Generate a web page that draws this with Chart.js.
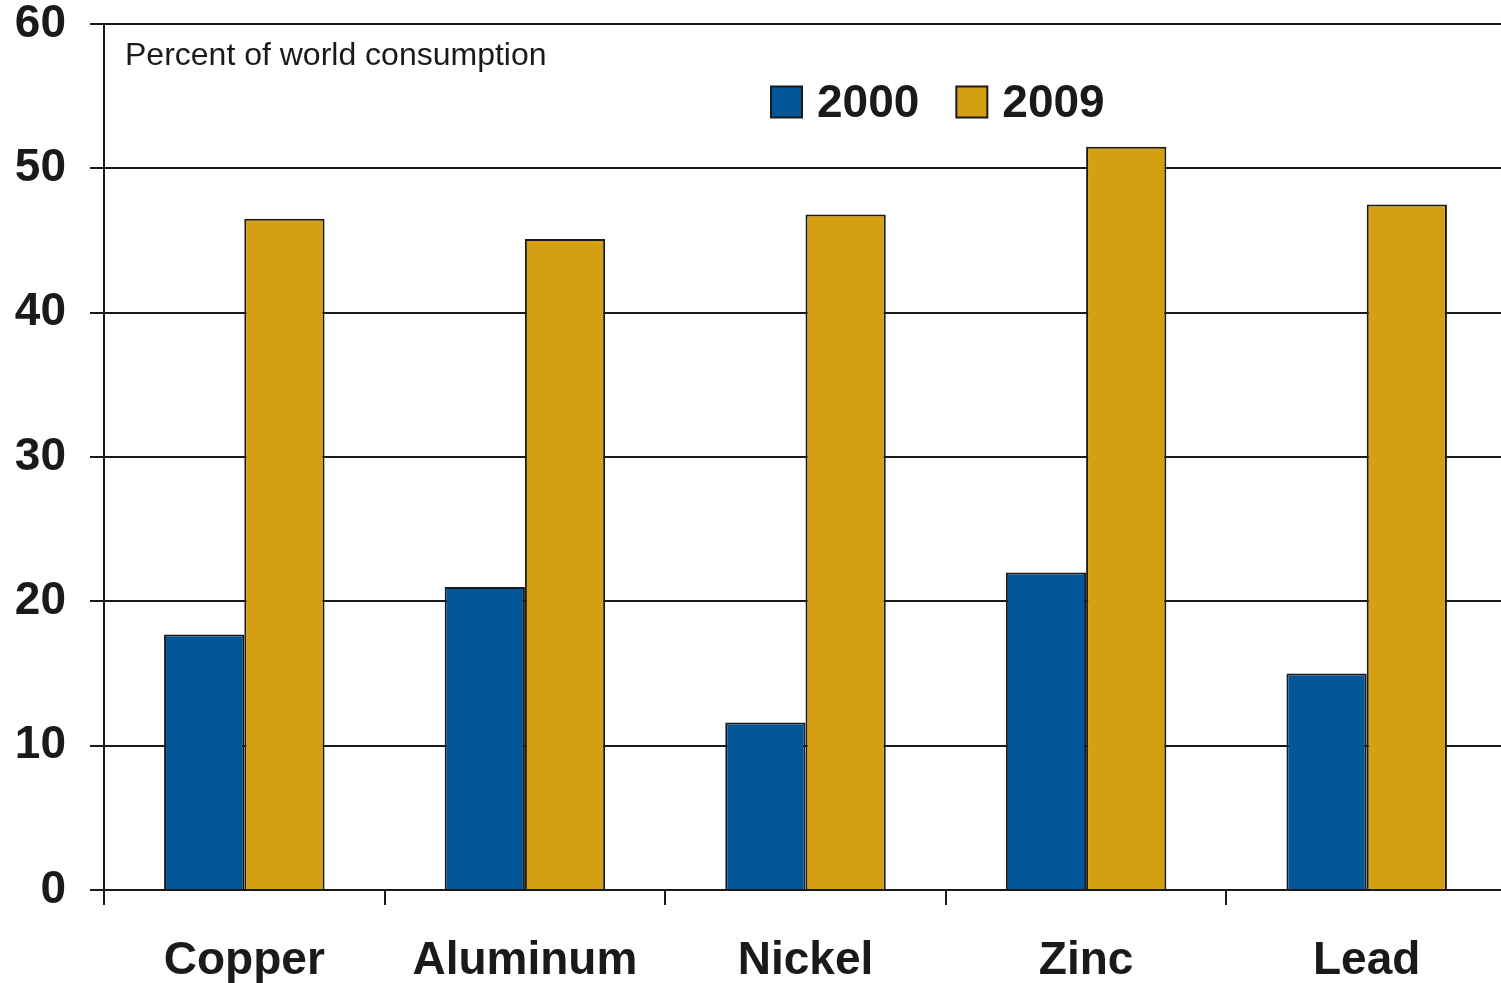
<!DOCTYPE html>
<html>
<head>
<meta charset="utf-8">
<title>Share of world metal consumption, 2000 and 2009</title>
<script src="https://cdn.jsdelivr.net/npm/chart.js@4/dist/chart.umd.min.js"></script>
<style>
  html, body { margin: 0; padding: 0; background: #ffffff; overflow: hidden; }
  #wrap { width: 1507px; height: 983px; position: relative; }
</style>
</head>
<body>
<div id="wrap"><canvas id="chart" width="1507" height="983"></canvas></div>
<script>
// Categories and series
const metals = ['Copper', 'Aluminum', 'Nickel', 'Zinc', 'Lead'];
const seriesNames = ['2000', '2009'];
const share2000 = [17.7, 21.0, 11.6, 22.0, 15.0];
const share2009 = [46.5, 45.1, 46.8, 51.5, 47.5];
const yTicks = [0, 10, 20, 30, 40, 50, 60];
const unitNote = 'Percent of world consumption';

const INK = '#1a1a1a';
const BLUE = '#02569a';
const GOLD = '#d4a012';
const FONT = '"Liberation Sans", Arial, Helvetica, sans-serif';

// Unit note in the top-left corner of the plot
const unitNotePlugin = {
  id: 'unitNote',
  afterDraw(chart) {
    const { ctx, chartArea } = chart;
    ctx.save();
    ctx.font = '32px ' + FONT;
    ctx.fillStyle = INK;
    ctx.textAlign = 'left';
    ctx.textBaseline = 'alphabetic';
    ctx.fillText(unitNote, chartArea.left + 21, 65);
    ctx.restore();
  }
};

// Legend drawn inside the plot area from the datasets
const insideLegend = {
  id: 'insideLegend',
  afterDraw(chart) {
    const { ctx, chartArea } = chart;
    const box = 31, gapText = 15, gapItem = 37, cy = 102;
    let x = chartArea.left + 667;
    ctx.save();
    ctx.font = 'bold 46px ' + FONT;
    ctx.textBaseline = 'middle';
    ctx.textAlign = 'left';
    chart.data.datasets.forEach(ds => {
      ctx.fillStyle = ds.backgroundColor;
      ctx.fillRect(x, cy - box / 2, box, box);
      ctx.lineWidth = 2;
      ctx.strokeStyle = INK;
      ctx.strokeRect(x, cy - box / 2, box, box);
      x += box + gapText;
      ctx.fillStyle = INK;
      ctx.fillText(ds.label, x, cy + 2);
      x += ctx.measureText(ds.label).width + gapItem;
    });
    ctx.restore();
  }
};

new Chart(document.getElementById('chart'), {
  type: 'bar',
  data: {
    labels: metals,
    datasets: [
      { label: seriesNames[0], data: share2000, backgroundColor: BLUE },
      { label: seriesNames[1], data: share2009, backgroundColor: GOLD }
    ]
  },
  options: {
    responsive: false,
    animation: false,
    layout: { padding: { top: 24, right: 0, bottom: 0, left: 0 } },
    datasets: {
      bar: {
        categoryPercentage: 0.572,
        barPercentage: 1.0,
        borderWidth: 2,
        borderColor: INK
      }
    },
    plugins: {
      legend: { display: false },
      tooltip: { enabled: false },
      title: { display: false }
    },
    scales: {
      x: {
        offset: true,
        grid: {
          offset: true,
          drawOnChartArea: false,
          drawTicks: true,
          tickLength: 15,
          lineWidth: 2,
          color: INK
        },
        border: { display: true, color: INK, width: 2 },
        ticks: {
          color: INK,
          padding: 33,
          maxRotation: 0,
          font: { family: FONT, size: 46, weight: 'bold', lineHeight: 1 }
        },
        afterFit(scale) {
          scale.height = 93;
          scale.paddingLeft = 0;
          scale.paddingRight = 0;
        }
      },
      y: {
        min: yTicks[0],
        max: yTicks[yTicks.length - 1],
        afterBuildTicks(scale) { scale.ticks = yTicks.map(v => ({ value: v })); },
        grid: {
          drawTicks: true,
          tickLength: 14,
          lineWidth: 2,
          color: INK
        },
        border: { display: true, color: INK, width: 2 },
        ticks: {
          color: INK,
          padding: 24,
          font: { family: FONT, size: 46, weight: 'bold', lineHeight: 1 }
        },
        afterFit(scale) {
          scale.width = 104;
          scale.paddingTop = 0;
          scale.paddingBottom = 0;
        }
      }
    }
  },
  plugins: [unitNotePlugin, insideLegend]
});
</script>
</body>
</html>
